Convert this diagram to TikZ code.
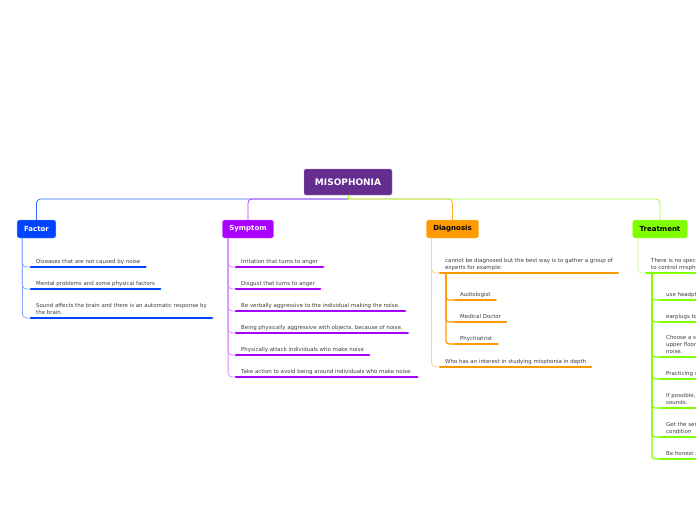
\documentclass[tikz,border=0pt]{standalone}
\usepackage{fontspec}
\setmainfont{DejaVu Sans}
\usetikzlibrary{calc,positioning}
\definecolor{rootpurple}{RGB}{102,45,145}
\definecolor{factorblue}{RGB}{0,68,255}
\definecolor{symptompurple}{RGB}{170,0,255}
\definecolor{diagorange}{RGB}{255,153,0}
\definecolor{treatgreen}{RGB}{128,255,0}
\definecolor{leafgray}{RGB}{60,60,60}

\begin{document}
\begin{tikzpicture}[
  x=1pt, y=-1pt,
  font=\fontsize{5.45}{6.8}\selectfont,
  root/.style={draw=rootpurple!55, fill=rootpurple, text=white, rounded corners=1.5pt, minimum width=88pt, minimum height=26pt, inner sep=0pt, font=\fontsize{9}{10}\selectfont\bfseries},
  branch/.style={draw=#1!55, fill=#1, rounded corners=2.5pt, minimum height=18pt, inner xsep=7pt, inner ysep=0pt, font=\fontsize{7}{8}\selectfont\bfseries},
  leaf/.style={anchor=south west, align=left, inner xsep=5pt, inner ysep=1.6pt, text=leafgray},
  ul/.style={draw=#1, line width=2.5pt, line cap=round},
  top/.style={draw=#1!80, line width=0.8pt, rounded corners=4pt},
  con/.style={draw=#1!45, line width=0.8pt, rounded corners=4pt},
  subcon/.style={draw=#1, line width=1.2pt, rounded corners=3pt}
]
\path[use as bounding box] (0,0) rectangle (696,520);
\clip (0,0) rectangle (696,520);

% root and main branches
\node[root] (root) at (348,182) {MISOPHONIA};
\coordinate (bus) at (348,199);
\node[branch=factorblue, text=white] (factor) at (36.5,229) {Factor};
\node[branch=symptompurple, text=white] (symptom) at (248,229) {Symptom};
\node[branch=diagorange, text=black] (diagnosis) at (452.5,229) {Diagnosis};
\node[branch=treatgreen, text=black] (treatment) at (660,229) {Treatment};
\foreach \b/\c in {factor/factorblue, diagnosis/diagorange, symptom/symptompurple, treatment/treatgreen}
  \draw[top=\c] (bus) -| (\b.north);
\draw[top=treatgreen, rounded corners=0pt] (root.south) -- (bus);

% Factor
\coordinate (fspine) at ($(factor.south west)+(5.5,0)$);
\foreach \txt/\y [count=\i] in {
  {Diseases that are not caused by noise}/267,
  {Mental problems and some physical factors}/289,
  {Sound affects the brain and there is an automatic response by\\the brain.}/318} {
  \node[leaf] (f\i) at (31,\y) {\txt\strut};
  \draw[con=factorblue] (fspine) |- (f\i.south west);
  \draw[ul=factorblue] (f\i.south west) -- (f\i.south east);
}

% Symptom
\coordinate (sspine) at ($(symptom.south west)+(6,0)$);
\foreach \txt/\y [count=\i] in {
  {Irritation that turns to anger}/267,
  {Disgust that turns to anger}/289,
  {Be verbally aggressive to the individual making the noise.}/311,
  {Being physically aggressive with objects, because of noise.}/333,
  {Physically attack individuals who make noise}/355,
  {Take action to avoid being around individuals who make noise.}/377} {
  \node[leaf] (s\i) at (236,\y) {\txt\strut};
  \draw[con=symptompurple] (sspine) |- (s\i.south west);
  \draw[ul=symptompurple] (s\i.south west) -- (s\i.south east);
}

% Diagnosis
\coordinate (dspine) at ($(diagnosis.south west)+(5.5,0)$);
\node[leaf] (d1) at (440,273) {cannot be diagnosed but the best way is to gather a group of\\experts for example:\strut};
\node[leaf] (d2) at (440,367) {Who has an interest in studying misphonia in depth\strut};
\foreach \n in {d1,d2}
  \draw[con=diagorange] (dspine) |- (\n.south west);
\coordinate (dsub) at ($(d1.south west)+(6,0)$);
\foreach \txt/\y [count=\i] in {Audiologist/300, Medical Doctor/322, Phychiatrist/344} {
  \node[leaf] (ds\i) at (455,\y) {\txt\strut};
  \draw[subcon=diagorange] (dsub) |- (ds\i.south west);
  \draw[ul=diagorange] (ds\i.south west) -- (ds\i.south east);
}
\foreach \n in {d1,d2}
  \draw[ul=diagorange] (\n.south west) -- (\n.south east);

% Treatment
\coordinate (tspine) at ($(treatment.south west)+(5.5,0)$);
\node[leaf] (t1) at (646,273) {There is no specific treatment\\to control misphonia, but you can:\strut};
\draw[con=treatgreen] (tspine) |- (t1.south west);
\coordinate (tsub) at ($(t1.south west)+(6,0)$);
\foreach \txt/\y [count=\i] in {
  {use headphones}/300,
  {earplugs to block the sound}/322,
  {Choose a seat away from the noise,\\upper floor or far from the source of\\noise.}/357,
  {Practicing self-control}/379,
  {If possible, avoid places with trigger\\sounds.}/408,
  {Get the services of a specialist in the\\condition}/437,
  {Be honest about your condition}/459} {
  \node[leaf] (ts\i) at (661,\y) {\txt\strut};
  \draw[subcon=treatgreen] (tsub) |- (ts\i.south west);
  \draw[ul=treatgreen] (ts\i.south west) -- (ts\i.south east);
}
\draw[ul=treatgreen] (t1.south west) -- (t1.south east);
\end{tikzpicture}
\end{document}
